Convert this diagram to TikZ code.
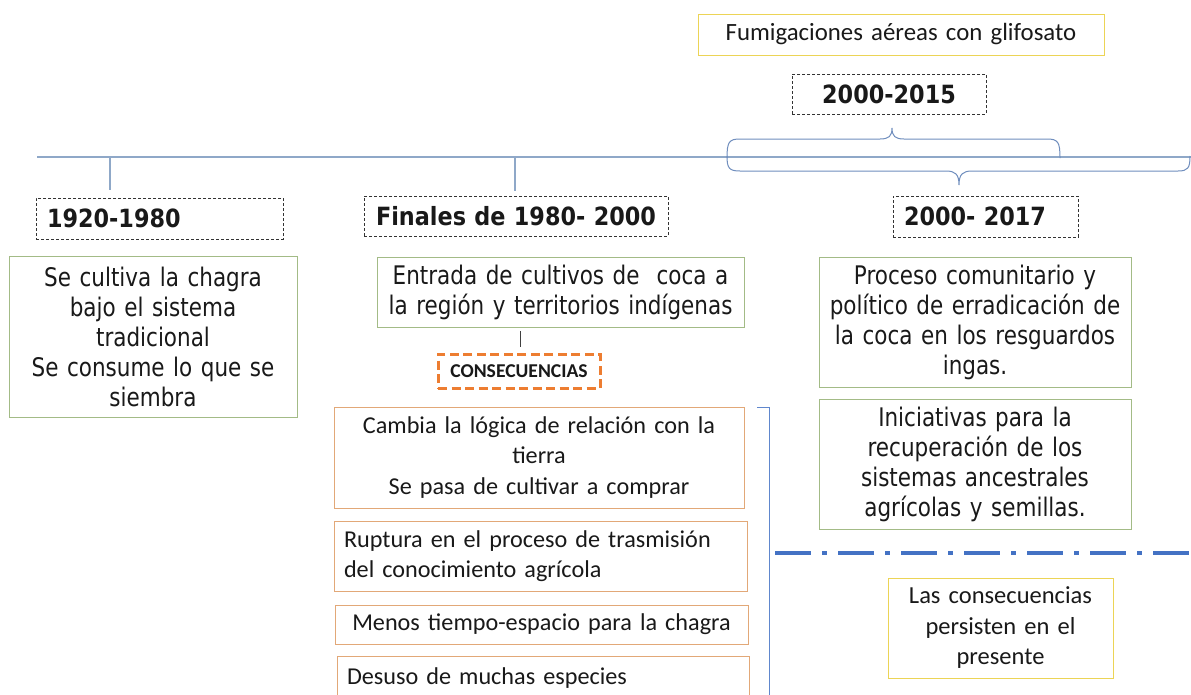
\documentclass[tikz,border=0pt]{standalone}
\usepackage{fontspec}
\setmainfont{Carlito}
\newfontfamily\dv[FakeStretch=0.84]{DejaVu Sans}
\newfontfamily\dvbf[FakeStretch=0.89]{DejaVu Sans}
\definecolor{gb}{RGB}{163,187,134}
\definecolor{ob}{RGB}{226,168,120}
\definecolor{od}{RGB}{237,125,49}
\definecolor{yb}{RGB}{236,212,86}
\definecolor{tlc}{RGB}{143,168,200}
\definecolor{brc}{RGB}{112,142,190}
\definecolor{ddc}{RGB}{68,114,196}
\begin{document}
\begin{tikzpicture}[x=1pt,y=-1pt,
  base/.style={anchor=north west, inner ysep=0pt, outer sep=0pt, line width=0.9pt, text=black!90},
  greenbox/.style={base, draw=gb, align=center, inner xsep=5pt, font=\dv\fontsize{25.6}{30}\selectfont},
  orangebox/.style={base, draw=ob, align=center, inner xsep=5pt, font=\fontsize{24.2}{30.5}\selectfont},
  orangeleft/.style={base, draw=ob, align=left, inner xsep=10pt, font=\fontsize{24.2}{30.5}\selectfont},
  yellowbox/.style={base, draw=yb, align=center, inner xsep=5pt, font=\fontsize{24.5}{30.5}\selectfont},
  datebox/.style={base, draw=black!80, dash pattern=on 3pt off 2pt, inner xsep=5pt, align=center, font=\dvbf\bfseries\fontsize{25.1}{28}\selectfont},
  dateleft/.style={datebox, align=left, inner xsep=11pt},
  consbox/.style={base, draw=od, line width=3pt, dash pattern=on 9pt off 4.5pt, align=center, inner xsep=3pt, font=\bfseries\fontsize{19.6}{22}\selectfont},
  tl/.style={draw=tlc, line width=1.1pt},
  brace/.style={draw=brc, line width=1pt},
  conn/.style={draw=black!75, line width=0.9pt}
]
\useasboundingbox (0,0) rectangle (1191,694);
\fill[white] (0,0) rectangle (1191,694);
\clip (0,0) rectangle (1191,694);

% timeline
\coordinate (tlL) at (37,157);
\coordinate (tlR) at (1191,157);
\draw[tl] (tlL) -- (tlR);
\coordinate (k1) at (110,157);
\coordinate (k1e) at (110,190);
\coordinate (k2) at (515,157);
\coordinate (k2e) at (515,191);
\draw[tl] (k1) -- (k1e);
\draw[tl] (k2) -- (k2e);

% braces
\draw[brace] (727,158) .. controls (727,142) and (729,139) .. (740,139) -- (880,139)
  .. controls (889,139) and (892,136) .. (892,128)
  .. controls (892,136) and (895,139) .. (904,139) -- (1047,139)
  .. controls (1058,139) and (1060,142) .. (1060,158);
\draw[brace] (727,156) .. controls (727,168) and (729,171) .. (740,171) -- (946,171)
  .. controls (955,171) and (959,174) .. (959,185)
  .. controls (959,174) and (963,171) .. (972,171) -- (1178,171)
  .. controls (1188,171) and (1190,168) .. (1190,156);

% top boxes
\node[yellowbox, minimum width=406pt, minimum height=41pt, text width=396pt, font=\fontsize{24.8}{30}\selectfont] (fum) at (698,14) {Fumigaciones aéreas con glifosato};
\node[datebox, minimum width=194pt, minimum height=40pt, text width=184pt] (d2015) at (792,74) {2000-2015};

% date boxes
\node[dateleft, minimum width=247pt, minimum height=41pt, text width=225pt] (d1920) at (36,198) {1920-1980};
\node[datebox, minimum width=304pt, minimum height=40pt, text width=294pt] (dfin) at (364,196) {Finales de 1980- 2000};
\node[dateleft, minimum width=185pt, minimum height=41pt, text width=163pt] (d2017) at (893,196) {2000- 2017};

% green boxes
\node[greenbox, minimum width=288pt, minimum height=161pt, text width=278pt] (chagra) at (9,256)
  {Se cultiva la chagra\\bajo el sistema\\tradicional\\Se consume lo que se\\siembra};
\node[greenbox, minimum width=367pt, minimum height=70pt, text width=357pt] (entrada) at (377,257)
  {Entrada de cultivos de~ coca a\\la región y territorios indígenas};
\node[greenbox, minimum width=312pt, minimum height=130pt, text width=302pt] (proc) at (819,257)
  {Proceso comunitario y\\político de erradicación de\\la coca en los resguardos\\ingas.};
\node[greenbox, minimum width=312pt, minimum height=130pt, text width=302pt] (inic) at (819,399)
  {Iniciativas para la\\recuperación de los\\sistemas ancestrales\\agrícolas y semillas.};

% consecuencias
\node[consbox, minimum width=162pt, minimum height=34pt, text width=156pt] (cons) at (438,354) {CONSECUENCIAS};
\coordinate (ce1) at (520,331);
\coordinate (ce2) at (520,347);
\draw[conn] (ce1) -- (ce2);

% orange boxes
\node[orangebox, minimum width=410pt, minimum height=101pt, text width=400pt] (c1) at (334,407)
  {Cambia la lógica de relación con la\\tierra\\Se pasa de cultivar a comprar};
\node[orangeleft, minimum width=413pt, minimum height=70pt, text width=393pt] (c2) at (334,521)
  {Ruptura en el proceso de trasmisión\\del conocimiento agrícola};
\node[orangebox, minimum width=413pt, minimum height=39pt, text width=403pt] (c3) at (335,605)
  {Menos tiempo-espacio para la chagra};
\node[orangeleft, minimum width=412pt, minimum height=44pt, text width=392pt] (c4) at (337,656)
  {Desuso de muchas especies};

% bracket
\coordinate (b1) at (757,407);
\coordinate (b2) at (769,407);
\coordinate (b3) at (769,700);
\draw[draw=ddc!85, line width=1pt] (b1) -- (b2) -- (b3);

% dash-dot separator
\coordinate (s1) at (775,553);
\coordinate (s2) at (1191,553);
\draw[draw=ddc, line width=3.5pt, dash pattern=on 36pt off 11pt on 5pt off 11pt] (s1) -- (s2);

% persistence box
\node[yellowbox, minimum width=225pt, minimum height=100pt, text width=215pt] (pers) at (888,578)
  {Las consecuencias\\persisten en el\\presente};
\end{tikzpicture}
\end{document}
